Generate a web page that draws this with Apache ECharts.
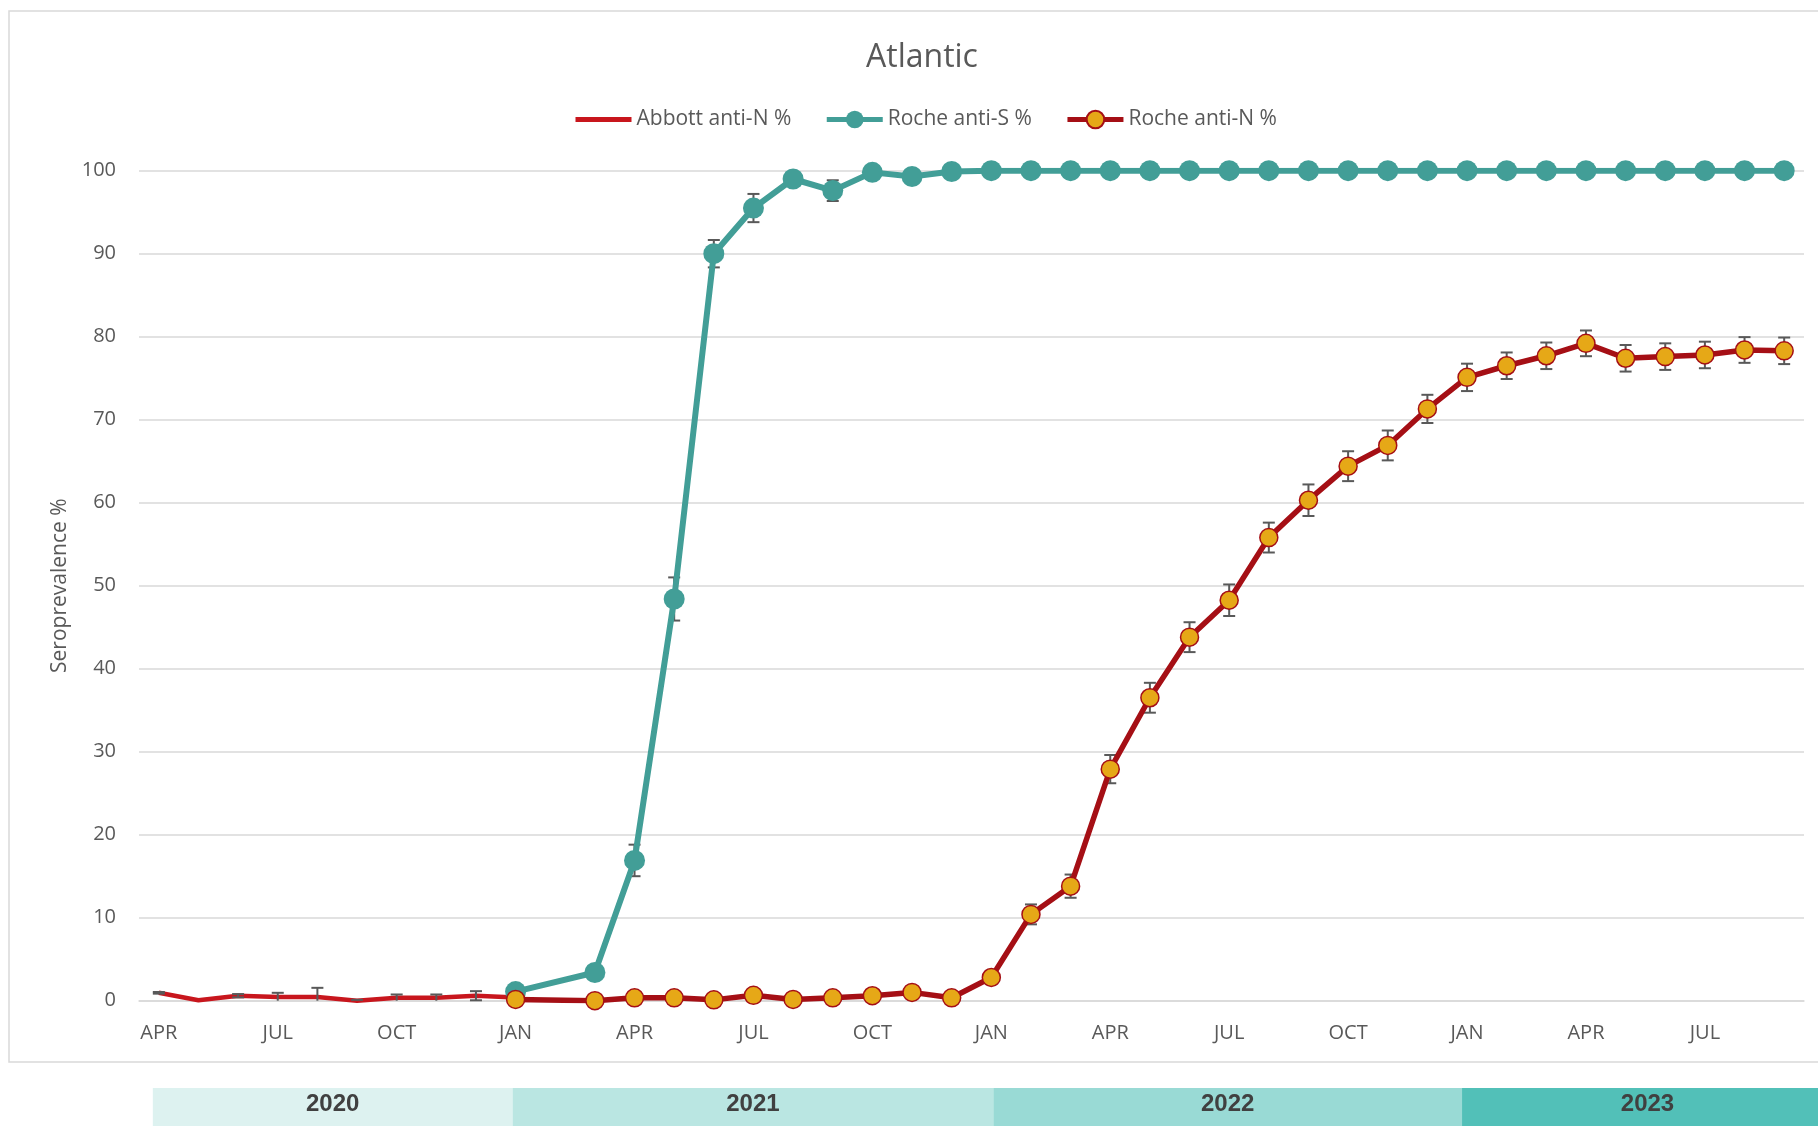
<!DOCTYPE html>
<html>
<head>
<meta charset="utf-8">
<title>Atlantic</title>
<script src="https://cdn.jsdelivr.net/npm/echarts@6/dist/echarts.min.js"></script>
<style>
  html, body { margin: 0; padding: 0; background: #fff; }
  #chart { width: 1818px; height: 1126px; }
</style>
</head>
<body>
<div id="chart"></div>
<script>
// months, APR 2020 .. SEP 2023
var months = [
  'APR 2020', 'MAY 2020', 'JUN 2020', 'JUL 2020', 'AUG 2020', 'SEP 2020', 'OCT 2020', 'NOV 2020', 'DEC 2020',
  'JAN 2021', 'FEB 2021', 'MAR 2021', 'APR 2021', 'MAY 2021', 'JUN 2021', 'JUL 2021', 'AUG 2021', 'SEP 2021', 'OCT 2021', 'NOV 2021', 'DEC 2021',
  'JAN 2022', 'FEB 2022', 'MAR 2022', 'APR 2022', 'MAY 2022', 'JUN 2022', 'JUL 2022', 'AUG 2022', 'SEP 2022', 'OCT 2022', 'NOV 2022', 'DEC 2022',
  'JAN 2023', 'FEB 2023', 'MAR 2023', 'APR 2023', 'MAY 2023', 'JUN 2023', 'JUL 2023', 'AUG 2023', 'SEP 2023'
];

var abbottN = [0.95, 0.05, 0.6, 0.45, 0.45, 0.0, 0.35, 0.35, 0.6,
  0.4, null, null, null, null, null, null, null, null, null, null, null,
  null, null, null, null, null, null, null, null, null, null, null, null,
  null, null, null, null, null, null, null, null, null];
var abbottErr = [0.1, 0, 0.2, 0.5, 1.1, 0.1, 0.4, 0.4, 0.55,
  0, null, null, null, null, null, null, null, null, null, null, null,
  null, null, null, null, null, null, null, null, null, null, null, null,
  null, null, null, null, null, null, null, null, null];

var rocheS = [null, null, null, null, null, null, null, null, null,
  1.1, null, 3.4, 16.9, 48.4, 90.0, 95.5, 99.0, 97.6, 99.8, 99.3, 99.9,
  100, 100, 100, 100, 100, 100, 100, 100, 100, 100, 100, 100,
  100, 100, 100, 100, 100, 100, 100, 100, 100];
var rocheSErr = [null, null, null, null, null, null, null, null, null,
  0.3, null, 0.5, 1.9, 2.6, 1.65, 1.7, 0.6, 1.25, 0.3, 0.4, 0.2,
  0, 0, 0, 0, 0, 0, 0, 0, 0, 0, 0, 0,
  0, 0, 0, 0, 0, 0, 0, 0, 0];

var rocheN = [null, null, null, null, null, null, null, null, null,
  0.15, null, 0.0, 0.35, 0.35, 0.1, 0.65, 0.15, 0.35, 0.6, 1.0, 0.35,
  2.8, 10.4, 13.8, 27.9, 36.5, 43.8, 48.25, 55.8, 60.3, 64.4, 66.9, 71.3,
  75.1, 76.5, 77.7, 79.2, 77.4, 77.6, 77.8, 78.4, 78.3];
var rocheNErr = [null, null, null, null, null, null, null, null, null,
  0.2, null, 0.2, 0.3, 0.3, 0.3, 0.3, 0.3, 0.3, 0.3, 0.3, 0.3,
  0.8, 1.2, 1.4, 1.7, 1.8, 1.8, 1.9, 1.8, 1.9, 1.8, 1.8, 1.7,
  1.65, 1.6, 1.6, 1.55, 1.6, 1.6, 1.6, 1.55, 1.6];

var years = ['2020', '2021', '2022', '2023'];
var yearStart = [0, 9, 21, 33];
var yearColors = ['#DDF2F0', '#BAE6E2', '#99DAD5', '#52C0B8'];

var font = 'Open Sans';
var grey = '#595959';
var yMin = 0, yMax = 100;

// vertical error bars with caps, cut at the plot edges like excel does
function errorBars(name, values, errors, z) {
  var data = [];
  for (var i = 0; i < values.length; i++) {
    if (values[i] != null && errors[i]) {
      data.push([i, values[i] - errors[i], values[i] + errors[i]]);
    }
  }
  return {
    type: 'custom',
    name: name + ' err',
    silent: true,
    z: z,
    encode: { x: 0, y: [1, 2] },
    data: data,
    renderItem: function(params, api) {
      var loV = api.value(1), hiV = api.value(2);
      var lo = api.coord([api.value(0), Math.max(loV, yMin)]);
      var hi = api.coord([api.value(0), Math.min(hiV, yMax)]);
      var hw = 6;
      var st = { stroke: grey, lineWidth: 2 };
      var kids = [
        { type: 'line', shape: { x1: lo[0], y1: lo[1], x2: hi[0], y2: hi[1] }, style: st }
      ];
      if (loV >= yMin) kids.push({ type: 'line', shape: { x1: lo[0] - hw, y1: lo[1], x2: lo[0] + hw, y2: lo[1] }, style: st });
      if (hiV <= yMax) kids.push({ type: 'line', shape: { x1: hi[0] - hw, y1: hi[1], x2: hi[0] + hw, y2: hi[1] }, style: st });
      return { type: 'group', children: kids };
    }
  };
}

var myChart = echarts.init(document.getElementById('chart'));

var option = {
  animation: false,
  backgroundColor: '#fff',
  title: {
    text: 'Atlantic',
    left: 861,
    top: 37,
    textStyle: { fontFamily: font, fontSize: 32, fontWeight: 'normal', color: grey }
  },
  legend: {
    data: [
      { name: 'Abbott anti-N %', lineStyle: { width: 5 }, itemStyle: { color: 'rgba(0,0,0,0)', borderWidth: 0 } },
      { name: 'Roche anti-S %', lineStyle: { width: 5 } },
      { name: 'Roche anti-N %', lineStyle: { width: 5 } }
    ],
    left: 568,
    top: 104,
    itemWidth: 56,
    itemHeight: 22,
    itemGap: 33,
    textStyle: { fontFamily: font, fontSize: 21, color: grey }
  },
  grid: {
    left: 139,
    right: 14,
    top: 170.7,
    bottom: 125.3,
    outerBoundsMode: 'none'
  },
  xAxis: {
    type: 'category',
    data: months,
    boundaryGap: true,
    axisLine: { show: true, lineStyle: { color: '#D9D9D9', width: 1.5 } },
    axisTick: { show: false },
    axisLabel: {
      interval: 2,
      margin: 23,
      fontFamily: font,
      fontSize: 20,
      color: grey,
      formatter: function(v) { return v.split(' ')[0]; }
    }
  },
  yAxis: {
    type: 'value',
    min: yMin,
    max: yMax,
    interval: 10,
    name: 'Seroprevalence %',
    nameLocation: 'middle',
    nameRotate: 90,
    nameGap: 67,
    nameTextStyle: { fontFamily: font, fontSize: 21, color: grey },
    axisLine: { show: false },
    axisTick: { show: false },
    axisLabel: { margin: 23, fontFamily: font, fontSize: 20, color: grey },
    splitLine: { lineStyle: { color: '#D9D9D9', width: 1.5 } }
  },
  series: [
    {
      name: 'Abbott anti-N %',
      type: 'line',
      data: abbottN,
      symbol: 'none',
      connectNulls: true,
      z: 2,
      lineStyle: { color: '#C8161D', width: 4.5 },
      itemStyle: { color: '#C8161D' },
      emphasis: { disabled: true }
    },
    {
      name: 'Roche anti-S %',
      type: 'line',
      data: rocheS,
      symbol: 'circle',
      symbolSize: 21,
      showAllSymbol: true,
      connectNulls: true,
      z: 2,
      lineStyle: { color: '#429E97', width: 6 },
      itemStyle: { color: '#429E97' },
      emphasis: { disabled: true }
    },
    {
      name: 'Roche anti-N %',
      type: 'line',
      data: rocheN,
      symbol: 'circle',
      symbolSize: 18,
      showAllSymbol: true,
      connectNulls: true,
      z: 2,
      lineStyle: { color: '#A50F15', width: 5.5 },
      itemStyle: { color: '#E6A817', borderColor: '#A50F15', borderWidth: 1.5 },
      emphasis: { disabled: true }
    },
    errorBars('Abbott anti-N %', abbottN, abbottErr, 3),
    errorBars('Roche anti-S %', rocheS, rocheSErr, 1),
    errorBars('Roche anti-N %', rocheN, rocheNErr, 1)
  ]
};

myChart.setOption(option);

// border of the chart area and the year bands under it
var graphics = [{
  type: 'rect',
  silent: true,
  shape: { x: 9, y: 11, width: 1840, height: 1051 },
  style: { fill: null, stroke: '#D9D9D9', lineWidth: 1.5 }
}];
var W = myChart.getWidth();
var nudge = [-6, -3, 2, -5];
for (var i = 0; i < years.length; i++) {
  var x0 = myChart.convertToPixel({ xAxisIndex: 0 }, yearStart[i]) + nudge[i];
  var x1 = i < years.length - 1 ? myChart.convertToPixel({ xAxisIndex: 0 }, yearStart[i + 1]) + nudge[i + 1] : W + 15;
  graphics.push({
    type: 'rect',
    silent: true,
    shape: { x: x0, y: 1088, width: x1 - x0, height: 40 },
    style: { fill: yearColors[i] }
  });
  graphics.push({
    type: 'text',
    silent: true,
    x: (x0 + x1) / 2,
    y: 1104,
    style: {
      text: years[i],
      fill: '#404040',
      font: 'bold 24px "Liberation Sans", Arial, sans-serif',
      align: 'center',
      verticalAlign: 'middle'
    }
  });
}
myChart.setOption({ graphic: graphics });
</script>
</body>
</html>
